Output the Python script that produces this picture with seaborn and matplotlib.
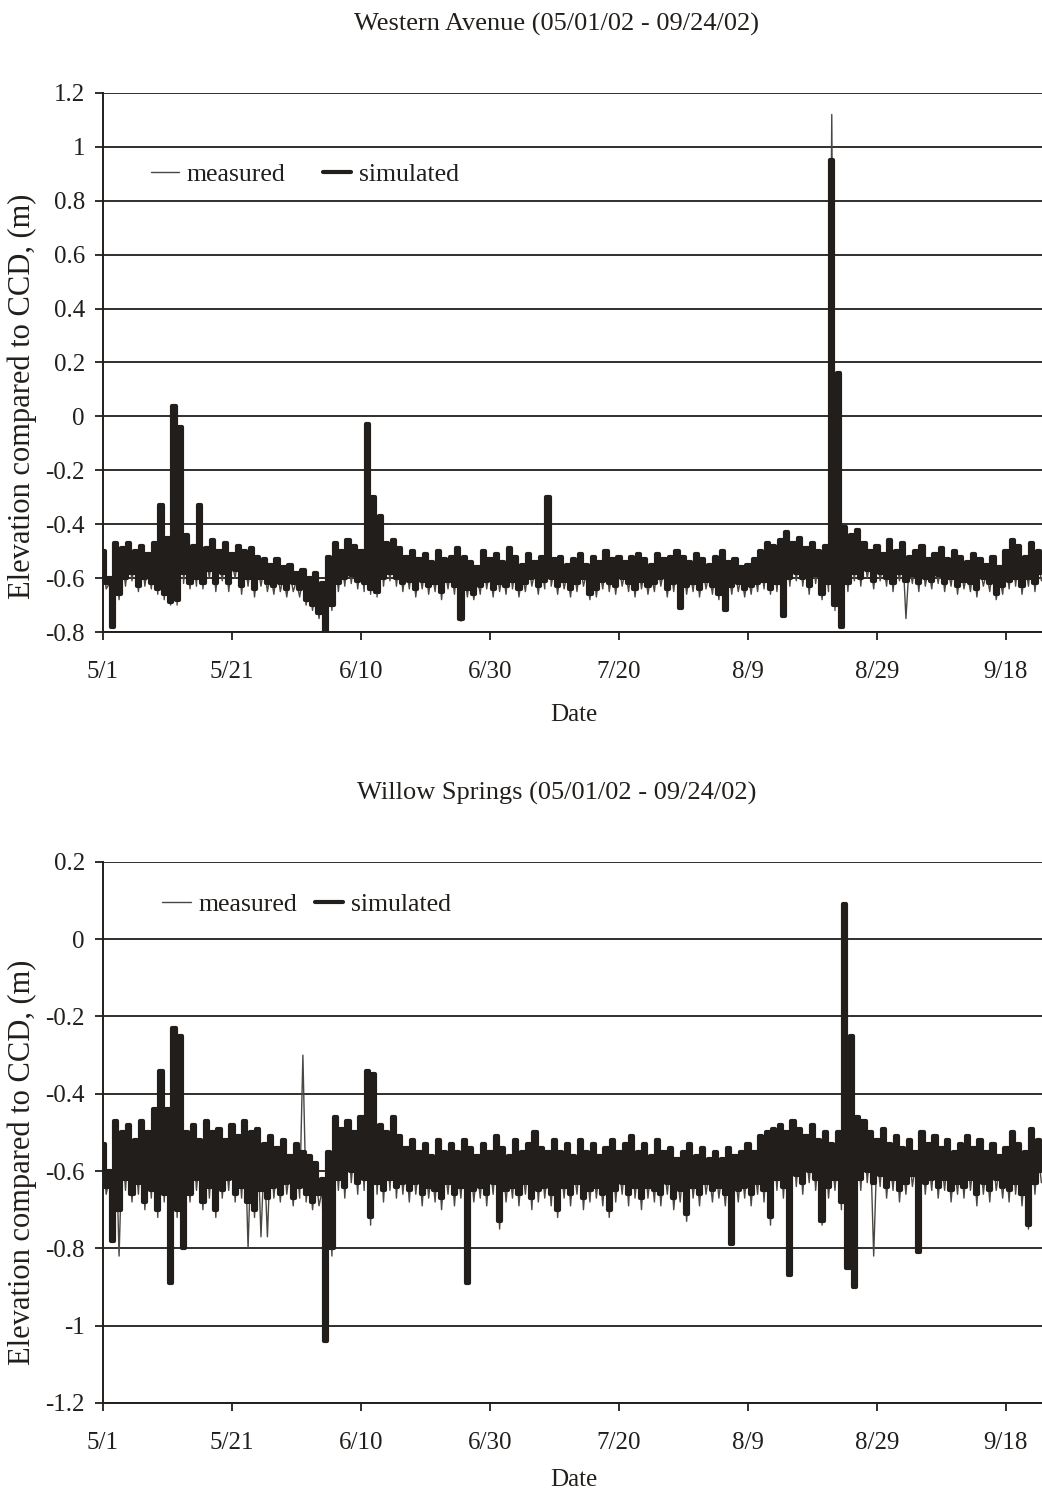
import numpy as np
import pandas as pd
import matplotlib
matplotlib.use("Agg")
import matplotlib.pyplot as plt
import seaborn as sns

# ---------------- data (daily high / low readings, day 0 = 5/1) ----------------
west_sim_hi = [
    -0.50, -0.60, -0.47, -0.49, -0.47, -0.50, -0.48, -0.51, -0.47, -0.33,
    -0.45, 0.04, -0.04, -0.44, -0.48, -0.33, -0.49, -0.46, -0.50, -0.47,
    -0.51, -0.48, -0.50, -0.49, -0.52, -0.53, -0.55, -0.53, -0.56, -0.55,
    -0.58, -0.57, -0.60, -0.58, -0.62, -0.52, -0.47, -0.50, -0.46, -0.48,
    -0.50, -0.03, -0.30, -0.37, -0.47, -0.46, -0.49, -0.52, -0.50, -0.53,
    -0.51, -0.54, -0.50, -0.53, -0.52, -0.49, -0.52, -0.54, -0.56, -0.50,
    -0.53, -0.51, -0.54, -0.49, -0.52, -0.55, -0.51, -0.54, -0.52, -0.30,
    -0.53, -0.52, -0.55, -0.53, -0.51, -0.55, -0.52, -0.54, -0.50, -0.53,
    -0.52, -0.54, -0.52, -0.51, -0.53, -0.55, -0.51, -0.53, -0.52, -0.50,
    -0.52, -0.54, -0.51, -0.53, -0.55, -0.52, -0.50, -0.54, -0.53, -0.56,
    -0.55, -0.53, -0.50, -0.47, -0.48, -0.46, -0.43, -0.47, -0.45, -0.49,
    -0.47, -0.50, -0.48, 0.95, 0.16, -0.41, -0.44, -0.42, -0.47, -0.50,
    -0.48, -0.51, -0.46, -0.50, -0.47, -0.52, -0.50, -0.48, -0.53, -0.51,
    -0.49, -0.53, -0.50, -0.52, -0.54, -0.51, -0.53, -0.55, -0.52, -0.56,
    -0.50, -0.46, -0.48, -0.52, -0.47, -0.50,
]
west_sim_lo = [
    -0.62, -0.78, -0.66, -0.60, -0.58, -0.63, -0.60, -0.62, -0.64, -0.66,
    -0.69, -0.68, -0.58, -0.62, -0.60, -0.62, -0.57, -0.62, -0.58, -0.62,
    -0.57, -0.63, -0.60, -0.64, -0.60, -0.62, -0.63, -0.62, -0.64, -0.62,
    -0.64, -0.68, -0.70, -0.73, -0.80, -0.70, -0.62, -0.60, -0.59, -0.61,
    -0.62, -0.64, -0.65, -0.60, -0.58, -0.60, -0.62, -0.61, -0.64, -0.61,
    -0.63, -0.62, -0.65, -0.61, -0.63, -0.75, -0.64, -0.66, -0.63, -0.61,
    -0.64, -0.62, -0.63, -0.61, -0.64, -0.62, -0.60, -0.63, -0.61, -0.60,
    -0.63, -0.61, -0.64, -0.62, -0.60, -0.66, -0.64, -0.61, -0.62, -0.63,
    -0.60, -0.62, -0.64, -0.61, -0.63, -0.62, -0.60, -0.64, -0.62, -0.71,
    -0.63, -0.62, -0.64, -0.61, -0.63, -0.66, -0.72, -0.63, -0.62, -0.64,
    -0.63, -0.62, -0.61, -0.64, -0.62, -0.74, -0.60, -0.58, -0.60, -0.63,
    -0.59, -0.66, -0.62, -0.70, -0.78, -0.62, -0.58, -0.60, -0.57, -0.61,
    -0.58, -0.60, -0.62, -0.58, -0.61, -0.59, -0.62, -0.60, -0.61, -0.59,
    -0.62, -0.60, -0.63, -0.61, -0.62, -0.64, -0.60, -0.62, -0.66, -0.63,
    -0.61, -0.60, -0.63, -0.60, -0.62, -0.58,
]
west_meas_hi = [
    -0.52, -0.62, -0.50, -0.52, -0.50, -0.53, -0.51, -0.54, -0.50, -0.36,
    -0.48, 0.02, -0.08, -0.47, -0.51, -0.36, -0.52, -0.49, -0.53, -0.50,
    -0.54, -0.51, -0.53, -0.52, -0.55, -0.56, -0.58, -0.56, -0.59, -0.58,
    -0.61, -0.60, -0.63, -0.61, -0.65, -0.55, -0.50, -0.53, -0.49, -0.51,
    -0.53, -0.05, -0.33, -0.40, -0.50, -0.49, -0.52, -0.55, -0.53, -0.56,
    -0.54, -0.57, -0.53, -0.56, -0.55, -0.52, -0.55, -0.57, -0.59, -0.53,
    -0.56, -0.54, -0.57, -0.52, -0.55, -0.58, -0.54, -0.57, -0.55, -0.32,
    -0.56, -0.55, -0.58, -0.56, -0.54, -0.58, -0.55, -0.57, -0.53, -0.56,
    -0.55, -0.57, -0.55, -0.54, -0.56, -0.58, -0.54, -0.56, -0.55, -0.53,
    -0.55, -0.57, -0.54, -0.56, -0.58, -0.55, -0.53, -0.57, -0.56, -0.59,
    -0.58, -0.56, -0.53, -0.50, -0.51, -0.49, -0.46, -0.50, -0.48, -0.52,
    -0.50, -0.53, -0.51, 1.12, 0.05, -0.44, -0.47, -0.45, -0.50, -0.53,
    -0.51, -0.54, -0.49, -0.53, -0.50, -0.55, -0.53, -0.51, -0.56, -0.54,
    -0.52, -0.56, -0.53, -0.55, -0.57, -0.54, -0.56, -0.58, -0.55, -0.59,
    -0.53, -0.49, -0.51, -0.55, -0.50, -0.53,
]
west_meas_lo = [
    -0.64, -0.76, -0.68, -0.63, -0.61, -0.65, -0.63, -0.64, -0.66, -0.68,
    -0.70, -0.70, -0.62, -0.64, -0.63, -0.64, -0.60, -0.65, -0.61, -0.65,
    -0.60, -0.66, -0.63, -0.67, -0.63, -0.65, -0.66, -0.65, -0.67, -0.65,
    -0.67, -0.70, -0.72, -0.75, -0.79, -0.72, -0.65, -0.63, -0.62, -0.64,
    -0.65, -0.66, -0.67, -0.63, -0.61, -0.63, -0.65, -0.64, -0.67, -0.64,
    -0.66, -0.65, -0.68, -0.64, -0.66, -0.76, -0.67, -0.68, -0.66, -0.64,
    -0.67, -0.65, -0.66, -0.64, -0.67, -0.65, -0.63, -0.66, -0.64, -0.63,
    -0.66, -0.64, -0.67, -0.65, -0.63, -0.68, -0.67, -0.64, -0.65, -0.66,
    -0.63, -0.65, -0.67, -0.64, -0.66, -0.65, -0.63, -0.67, -0.65, -0.70,
    -0.66, -0.65, -0.67, -0.64, -0.66, -0.68, -0.71, -0.66, -0.65, -0.67,
    -0.66, -0.65, -0.64, -0.66, -0.65, -0.72, -0.63, -0.61, -0.63, -0.66,
    -0.62, -0.68, -0.65, -0.72, -0.77, -0.65, -0.61, -0.63, -0.60, -0.64,
    -0.61, -0.63, -0.65, -0.61, -0.75, -0.62, -0.65, -0.63, -0.64, -0.62,
    -0.65, -0.63, -0.66, -0.64, -0.65, -0.67, -0.63, -0.65, -0.68, -0.66,
    -0.64, -0.63, -0.66, -0.63, -0.65, -0.61,
]

willow_sim_hi = [
    -0.53, -0.60, -0.47, -0.50, -0.48, -0.52, -0.47, -0.50, -0.44, -0.34,
    -0.44, -0.23, -0.25, -0.50, -0.48, -0.52, -0.47, -0.50, -0.49, -0.52,
    -0.48, -0.51, -0.47, -0.50, -0.49, -0.53, -0.51, -0.54, -0.52, -0.56,
    -0.53, -0.55, -0.56, -0.58, -0.62, -0.55, -0.46, -0.49, -0.47, -0.50,
    -0.46, -0.34, -0.35, -0.48, -0.50, -0.46, -0.51, -0.54, -0.52, -0.55,
    -0.53, -0.56, -0.52, -0.55, -0.53, -0.55, -0.52, -0.54, -0.56, -0.53,
    -0.55, -0.51, -0.54, -0.56, -0.52, -0.55, -0.53, -0.50, -0.54, -0.55,
    -0.52, -0.55, -0.53, -0.56, -0.52, -0.55, -0.53, -0.56, -0.54, -0.52,
    -0.55, -0.53, -0.51, -0.55, -0.53, -0.56, -0.52, -0.55, -0.54, -0.57,
    -0.55, -0.53, -0.56, -0.54, -0.57, -0.55, -0.57, -0.54, -0.56, -0.55,
    -0.53, -0.55, -0.51, -0.50, -0.49, -0.48, -0.50, -0.47, -0.49, -0.51,
    -0.48, -0.52, -0.50, -0.53, -0.50, 0.09, -0.25, -0.46, -0.47, -0.50,
    -0.52, -0.49, -0.53, -0.51, -0.54, -0.52, -0.55, -0.50, -0.53, -0.51,
    -0.54, -0.52, -0.55, -0.53, -0.51, -0.54, -0.52, -0.55, -0.53, -0.56,
    -0.54, -0.50, -0.53, -0.55, -0.49, -0.52,
]
willow_sim_lo = [
    -0.64, -0.78, -0.70, -0.62, -0.66, -0.63, -0.68, -0.65, -0.70, -0.66,
    -0.89, -0.70, -0.80, -0.66, -0.62, -0.68, -0.64, -0.70, -0.65, -0.62,
    -0.66, -0.64, -0.68, -0.70, -0.65, -0.67, -0.64, -0.66, -0.63, -0.67,
    -0.64, -0.66, -0.68, -0.66, -1.04, -0.80, -0.62, -0.64, -0.60, -0.63,
    -0.62, -0.72, -0.63, -0.65, -0.62, -0.64, -0.63, -0.65, -0.63, -0.66,
    -0.64, -0.65, -0.67, -0.63, -0.66, -0.64, -0.89, -0.65, -0.64, -0.66,
    -0.63, -0.73, -0.65, -0.64, -0.66, -0.63, -0.67, -0.65, -0.64, -0.66,
    -0.70, -0.64, -0.66, -0.63, -0.67, -0.65, -0.64, -0.66, -0.70, -0.65,
    -0.63, -0.66, -0.64, -0.67, -0.64, -0.65, -0.66, -0.63, -0.67, -0.65,
    -0.71, -0.64, -0.66, -0.63, -0.65, -0.64, -0.66, -0.79, -0.65, -0.64,
    -0.66, -0.63, -0.65, -0.72, -0.62, -0.64, -0.87, -0.61, -0.63, -0.60,
    -0.62, -0.73, -0.64, -0.62, -0.68, -0.85, -0.90, -0.62, -0.60, -0.63,
    -0.61, -0.64, -0.62, -0.65, -0.63, -0.61, -0.81, -0.63, -0.62, -0.64,
    -0.62, -0.65, -0.63, -0.64, -0.62, -0.66, -0.63, -0.65, -0.62, -0.64,
    -0.65, -0.63, -0.66, -0.74, -0.63, -0.60,
]
willow_meas_hi = [
    -0.55, -0.62, -0.50, -0.53, -0.51, -0.55, -0.50, -0.53, -0.47, -0.37,
    -0.47, -0.26, -0.28, -0.53, -0.51, -0.55, -0.50, -0.53, -0.52, -0.55,
    -0.51, -0.54, -0.50, -0.53, -0.52, -0.56, -0.54, -0.57, -0.55, -0.59,
    -0.56, -0.30, -0.59, -0.61, -0.65, -0.58, -0.49, -0.52, -0.50, -0.53,
    -0.49, -0.37, -0.38, -0.51, -0.53, -0.49, -0.54, -0.57, -0.55, -0.58,
    -0.56, -0.59, -0.55, -0.58, -0.56, -0.58, -0.55, -0.57, -0.59, -0.56,
    -0.58, -0.54, -0.57, -0.59, -0.55, -0.58, -0.56, -0.53, -0.57, -0.58,
    -0.55, -0.58, -0.56, -0.59, -0.55, -0.58, -0.56, -0.59, -0.57, -0.55,
    -0.58, -0.56, -0.54, -0.58, -0.56, -0.59, -0.55, -0.58, -0.57, -0.60,
    -0.58, -0.56, -0.59, -0.57, -0.60, -0.58, -0.60, -0.57, -0.59, -0.58,
    -0.56, -0.58, -0.54, -0.53, -0.52, -0.51, -0.53, -0.50, -0.52, -0.54,
    -0.51, -0.55, -0.53, -0.56, -0.53, 0.05, -0.28, -0.49, -0.50, -0.53,
    -0.55, -0.52, -0.56, -0.54, -0.57, -0.55, -0.58, -0.53, -0.56, -0.54,
    -0.57, -0.55, -0.58, -0.56, -0.54, -0.57, -0.55, -0.58, -0.56, -0.59,
    -0.57, -0.53, -0.56, -0.58, -0.52, -0.55,
]
willow_meas_lo = [
    -0.66, -0.76, -0.82, -0.65, -0.68, -0.66, -0.70, -0.67, -0.72, -0.68,
    -0.86, -0.72, -0.78, -0.68, -0.65, -0.70, -0.67, -0.72, -0.67, -0.65,
    -0.68, -0.67, -0.80, -0.72, -0.77, -0.77, -0.67, -0.68, -0.66, -0.69,
    -0.67, -0.68, -0.70, -0.69, -1.02, -0.82, -0.65, -0.67, -0.63, -0.66,
    -0.65, -0.74, -0.66, -0.68, -0.65, -0.67, -0.66, -0.68, -0.66, -0.69,
    -0.67, -0.68, -0.70, -0.66, -0.69, -0.67, -0.87, -0.68, -0.67, -0.69,
    -0.66, -0.75, -0.68, -0.67, -0.69, -0.66, -0.70, -0.68, -0.67, -0.69,
    -0.72, -0.67, -0.69, -0.66, -0.70, -0.68, -0.67, -0.69, -0.72, -0.68,
    -0.66, -0.69, -0.67, -0.70, -0.67, -0.68, -0.69, -0.66, -0.70, -0.68,
    -0.73, -0.67, -0.69, -0.66, -0.68, -0.67, -0.69, -0.78, -0.68, -0.67,
    -0.69, -0.66, -0.68, -0.74, -0.65, -0.67, -0.85, -0.64, -0.66, -0.63,
    -0.65, -0.74, -0.67, -0.65, -0.70, -0.83, -0.88, -0.65, -0.63, -0.82,
    -0.64, -0.67, -0.65, -0.68, -0.66, -0.64, -0.80, -0.66, -0.65, -0.67,
    -0.65, -0.68, -0.66, -0.67, -0.65, -0.69, -0.66, -0.68, -0.65, -0.67,
    -0.68, -0.66, -0.69, -0.75, -0.66, -0.63,
]

tick_days = [0, 20, 40, 60, 80, 100, 120, 140]
tick_labels = ["5/1", "5/21", "6/10", "6/30", "7/20", "8/9", "8/29", "9/18"]
titles = ["Western Avenue (05/01/02 - 09/24/02)", "Willow Springs (05/01/02 - 09/24/02)"]
ylabel = "Elevation compared to CCD, (m)"


def series(hi, lo):
    t, v = [], []
    for d, (h, l) in enumerate(zip(hi, lo)):
        t += [d, d + 0.5]
        v += [h, l]
    return pd.DataFrame({"day": t, "elev": v})


sns.set_theme(style="white")
plt.rcParams["font.family"] = ["Liberation Serif", "DejaVu Serif"]

fig = plt.figure(figsize=(10.42, 14.92), dpi=100)
ink = "#221e1b"

panels = [
    dict(rect=[0.0988, 0.5764, 0.9037, 0.3613], sim=(west_sim_hi, west_sim_lo),
         meas=(west_meas_hi, west_meas_lo), ylim=(-0.8, 1.2),
         yt=np.round(np.arange(-0.8, 1.21, 0.2), 1), leg=(0.051, 0.848),
         colsp=1.45, title=titles[0], lab_y=0.438, xpad=15),
    dict(rect=[0.0988, 0.0597, 0.9037, 0.3626], sim=(willow_sim_hi, willow_sim_lo),
         meas=(willow_meas_hi, willow_meas_lo), ylim=(-1.2, 0.2),
         yt=np.round(np.arange(-1.2, 0.21, 0.2), 1), leg=(0.063, 0.921),
         colsp=0.7, title=titles[1], lab_y=0.445, xpad=11),
]

for p in panels:
    ax = fig.add_axes(p["rect"])
    ax.set_facecolor("white")
    for yv in p["yt"]:
        ax.axhline(yv, color=ink, lw=1.3, zorder=0.5)
    dm = series(*p["meas"])
    ds = series(*p["sim"])
    sns.lineplot(data=dm, x="day", y="elev", ax=ax, color="#4a4642", lw=1.0,
                 estimator=None, sort=False, label="measured", zorder=2)
    sns.lineplot(data=ds, x="day", y="elev", ax=ax, color=ink, lw=3.0,
                 estimator=None, sort=False, label="simulated", zorder=3,
                 drawstyle="steps-mid")
    ax.set_xlim(0, 146)
    ax.set_ylim(*p["ylim"])
    ax.set_xticks(tick_days)
    ax.set_xticklabels(tick_labels)
    ax.set_yticks(p["yt"])
    ax.set_yticklabels([("%g" % v) if v != 0 else "0" for v in p["yt"]])
    ax.tick_params(axis="both", direction="out", length=6, width=1.3, color=ink,
                   labelsize=18, labelcolor=ink, bottom=True, left=True)
    ax.tick_params(axis="x", pad=15)
    ax.tick_params(axis="y", pad=7)
    for s in ["top", "right"]:
        ax.spines[s].set_visible(False)
    for s in ["left", "bottom"]:
        ax.spines[s].set_color(ink)
        ax.spines[s].set_linewidth(1.4)
    ax.set_xlabel("Date", fontsize=18, color=ink, labelpad=p["xpad"])
    ax.set_ylabel(ylabel, fontsize=22, color=ink)
    ax.yaxis.set_label_coords(-0.070, p["lab_y"])
    ax.set_title(p["title"], fontsize=19, color=ink, pad=45, x=0.482)
    leg = ax.legend(loc="center left", bbox_to_anchor=p["leg"], ncol=2, frameon=False,
                    fontsize=18.5, handlelength=1.1, handletextpad=0.3,
                    columnspacing=p["colsp"], borderpad=0, borderaxespad=0)
    for t in leg.get_texts():
        t.set_color(ink)

fig.savefig("out.png", dpi=100, facecolor="white")
